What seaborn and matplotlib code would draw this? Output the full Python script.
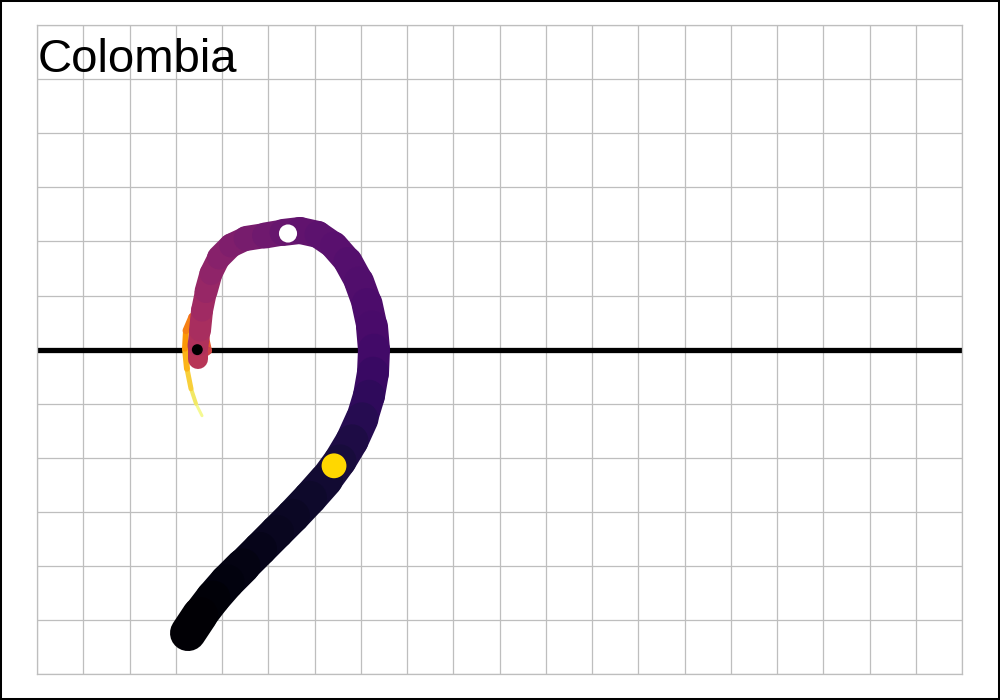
import numpy as np
import pandas as pd
import matplotlib
matplotlib.use("Agg")
import matplotlib.pyplot as plt
from matplotlib.collections import LineCollection
from matplotlib.patches import Rectangle
import seaborn as sns

# ---- data ----
country = "Colombia"
path_x = [3.265, 3.524, 3.805, 4.108, 4.454, 4.822, 5.189, 5.535, 5.903, 6.249,
          6.551, 6.811, 7.027, 7.178, 7.265, 7.286, 7.243, 7.135, 6.962, 6.724,
          6.422, 6.076, 5.686, 5.319, 4.930, 4.519, 4.195, 3.935, 3.762, 3.654,
          3.568, 3.524, 3.481, 3.481, 3.697, 3.611, 3.351, 3.222, 3.200, 3.243,
          3.330, 3.438, 3.568]
path_y = [-5.241, -4.907, -4.593, -4.296, -4.000, -3.685, -3.370, -3.074, -2.741, -2.407,
          -2.056, -1.685, -1.278, -0.852, -0.426, 0.000, 0.426, 0.852, 1.259, 1.630,
          1.926, 2.130, 2.204, 2.167, 2.111, 2.056, 1.926, 1.704, 1.407, 1.074,
          0.722, 0.352, 0.074, -0.167, -0.019, 0.315, 0.611, 0.352, 0.019, -0.352,
          -0.722, -1.000, -1.222]
path_t = [0.00, 0.01, 0.02, 0.03, 0.04, 0.05, 0.06, 0.07, 0.08, 0.095,
          0.11, 0.13, 0.15, 0.17, 0.19, 0.21, 0.22, 0.23, 0.24, 0.25,
          0.26, 0.27, 0.28, 0.30, 0.32, 0.34, 0.36, 0.38, 0.40, 0.42,
          0.44, 0.46, 0.48, 0.50, 0.60, 0.66, 0.70, 0.74, 0.80, 0.86,
          0.91, 0.96, 1.00]
path_w = [36, 36, 35, 35, 35, 34, 34, 34, 34, 34,
          33, 33, 33, 32, 32, 32, 32, 31, 30, 29,
          28, 27, 27, 27, 26, 25, 24, 24, 23, 23,
          22, 22, 21, 20, 8, 8, 7, 7, 6, 6,
          5, 4, 3]

dots_x = [5.427, 6.422, 3.466]
dots_y = [2.148, -2.148, 0.0]
dots_kind = ["white", "gold", "black"]

# ---- figure ----
sns.set_style("white")
plt.rcParams['font.family'] = ['Liberation Sans', 'DejaVu Sans']

fig = plt.figure(figsize=(10, 7), dpi=100)
ax = fig.add_axes([0.037, 0.037, 0.925, 0.927])
ax.set_xlim(0, 20)
ax.set_ylim(-6, 6)
ax.set_xticks(range(0, 21))
ax.set_yticks(range(-6, 7))
ax.set_xticklabels([])
ax.set_yticklabels([])
ax.tick_params(length=0)
ax.grid(True, color="#bebebe", linewidth=0.9)
ax.set_axisbelow(True)
for s in ax.spines.values():
    s.set_color("#bebebe")
    s.set_linewidth(0.9)

ax.axhline(0, color="black", linewidth=3.8, zorder=2, solid_capstyle="butt")

# variable-width, colour-graded path
px = np.array(path_x)
py = np.array(path_y)
pt = np.array(path_t)
pw = np.array(path_w) * 0.72
n = len(px) - 1
segs = [[(px[i], py[i]), (px[i + 1], py[i + 1])] for i in range(n)]
cmap = plt.get_cmap("inferno")
cols = [cmap((pt[i] + pt[i + 1]) / 2) for i in range(n)]
widths = [min(pw[i], pw[i + 1]) for i in range(n)]
# later segments drawn first so earlier (thicker) ones sit on top
lc = LineCollection(segs[::-1], colors=cols[::-1], linewidths=widths[::-1],
                    capstyle="round", joinstyle="round", zorder=3)
ax.add_collection(lc)

df = pd.DataFrame({"x": dots_x, "y": dots_y, "kind": dots_kind})
sizes = {"white": 170, "gold": 320, "black": 62}
colors = {"white": "white", "gold": "#FFD700", "black": "black"}
for k in dots_kind:
    sub = df[df.kind == k]
    sns.scatterplot(data=sub, x="x", y="y", color=colors[k], s=sizes[k],
                    edgecolor="none", linewidth=0, ax=ax, zorder=4, legend=False)
ax.set_xlabel("")
ax.set_ylabel("")

fig.text(0.038, 1 - 72 / 700, country, fontsize=34, color="black",
         ha="left", va="baseline")

fig.patches.append(Rectangle((0, 0), 1, 1, transform=fig.transFigure,
                             fill=False, edgecolor="black", linewidth=2.9))

fig.savefig("out.png", dpi=100)
